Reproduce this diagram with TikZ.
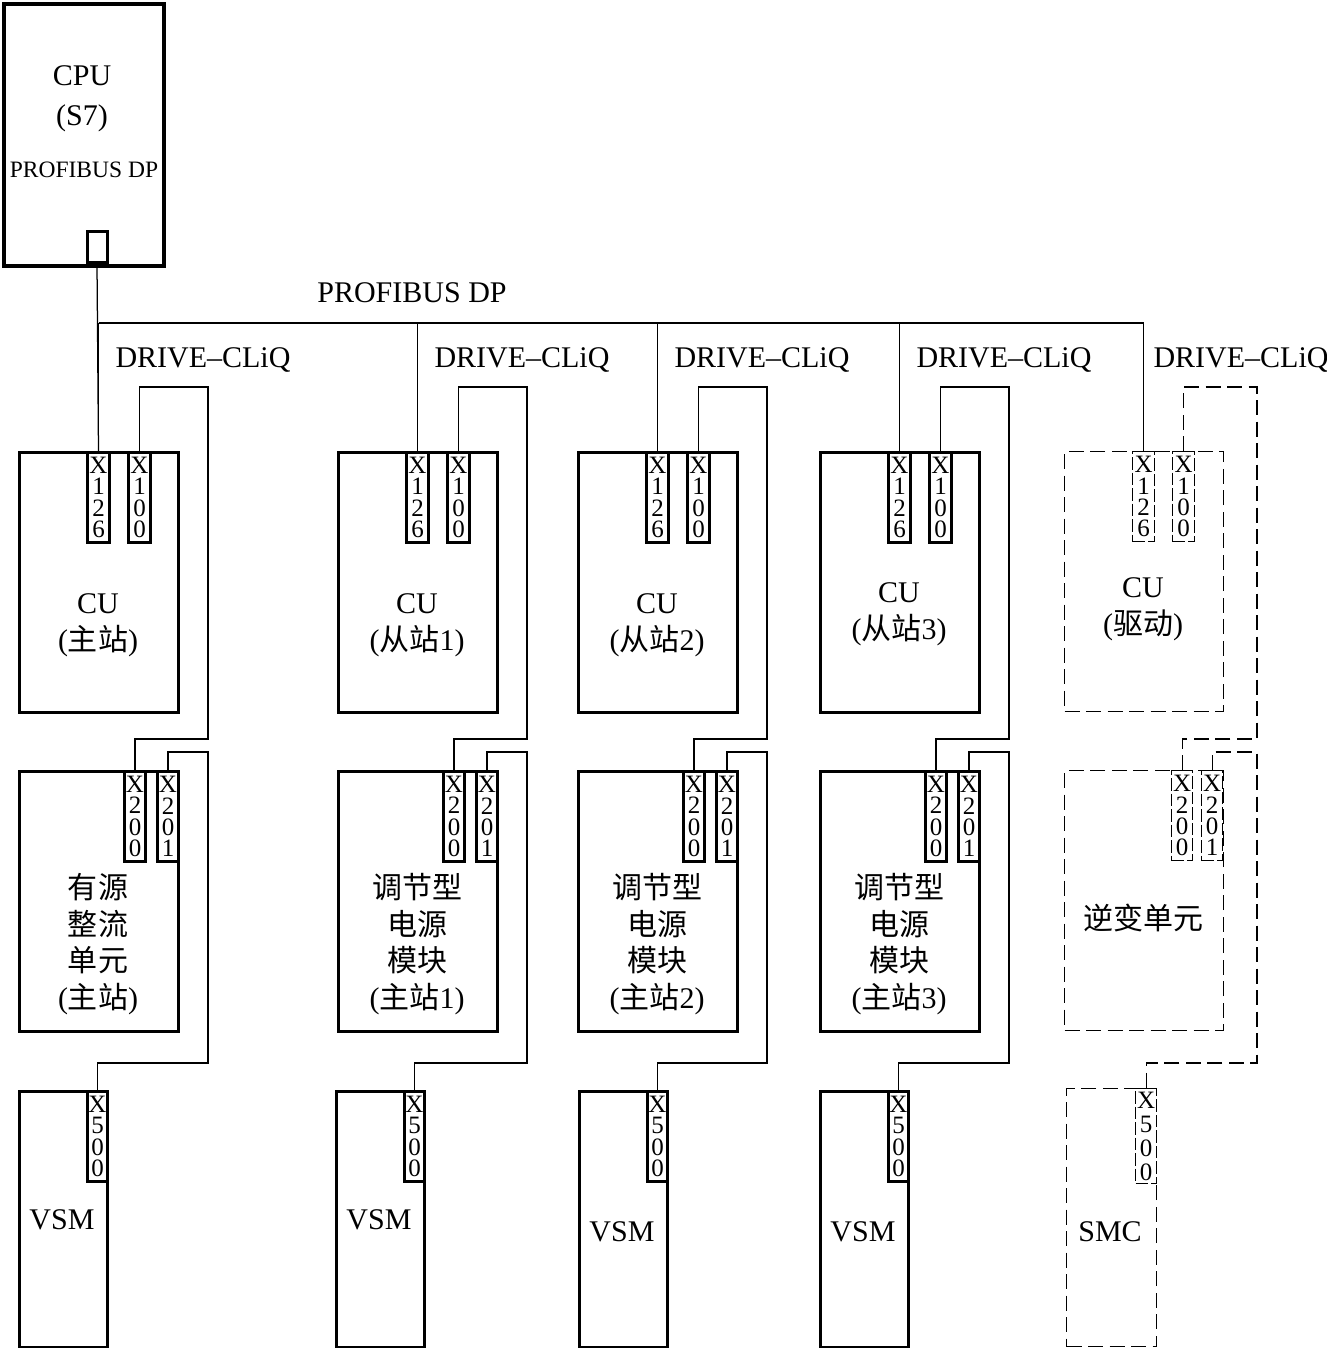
\documentclass[tikz,border=0pt]{standalone}
\usepackage{fontspec}
\setmainfont{Liberation Serif}
\newfontfamily\cjkfont{Noto Sans CJK SC}
\newcommand{\hz}[1]{{\cjkfont #1}}

\tikzset{
    unit/.style={draw, line width=1.2pt, anchor=north west, inner sep=0pt,
        minimum width=63.6pt, minimum height=104pt},
    vsmunit/.style={unit, minimum width=35.2pt, minimum height=102.4pt},
    port/.style={draw, line width=1.2pt, fill=white, anchor=north west, inner sep=0pt,
        minimum width=8.8pt, minimum height=36pt, align=center,
        font=\fontsize{10}{8.5}\selectfont},
    txt/.style={align=center, inner sep=0pt, font=\fontsize{12}{14.6}\selectfont},
    link/.style={line width=0.5pt},
    spare/.style={line width=0.5pt, dash pattern=on 6pt off 2.6pt},
    spareport/.style={line width=0.5pt, dash pattern=on 5pt off 1.2pt}
}

\begin{document}
\begin{tikzpicture}[x=0.4pt, y=-0.4pt]

\useasboundingbox (0,0) rectangle (1327,1348);

% CPU
\node[unit, line width=1.4pt, minimum width=64pt, minimum height=104.8pt] (cpu) at (2,2) {};
\node[port, minimum width=8pt, minimum height=12.4pt, anchor=south] (cpup) at (97,264) {};
\node[txt] (cpuname) at (82,76) {CPU};
\node[txt] (cpus7) at (82,118) {(S7)};
\node[txt, font=\fontsize{9.4}{11}\selectfont] (cpudp) at (84,170) {PROFIBUS DP};

% Bus label
\node[txt] (dp) at (412,293) {PROFIBUS DP};

% Drive groups
\foreach \i/\l/\vl/\cy/\vy/\cutxt/\pmtxt in {
    1/18/18/625/1220/{CU\\(\hz{主站})}/{\hz{有源}\\\hz{整流}\\\hz{单元}\\(\hz{主站})},
    2/337/335/625/1220/{CU\\(\hz{从站}1)}/{\hz{调节型}\\\hz{电源}\\\hz{模块}\\(\hz{主站}1)},
    3/577/578/625/1232/{CU\\(\hz{从站}2)}/{\hz{调节型}\\\hz{电源}\\\hz{模块}\\(\hz{主站}2)},
    4/819/819/614/1232/{CU\\(\hz{从站}3)}/{\hz{调节型}\\\hz{电源}\\\hz{模块}\\(\hz{主站}3)}}
{
    % control unit
    \node[unit] (cu\i) at (\l,451) {};
    \node[port] (cu\i-x126) at (\l+68,451) {X\\1\\2\\6};
    \node[port] (cu\i-x100) at (\l+109,451) {X\\1\\0\\0};
    \node[txt] (cu\i-txt) at (\l+80,\cy) {\cutxt};

    % power module
    \node[unit] (pm\i) at (\l,770) {};
    \node[port, minimum width=8.4pt] (pm\i-x200) at (\l+105,770) {X\\2\\0\\0};
    \node[port, minimum width=8.4pt] (pm\i-x201) at (\l+138,770) {X\\2\\0\\1};
    \node[txt] (pm\i-txt) at (\l+80,944) {\pmtxt};

    % voltage sensing module
    \node[vsmunit] (vsm\i) at (\vl,1090) {};
    \node[port, minimum width=8pt] (vsm\i-x500) at (\vl+68,1090) {X\\5\\0\\0};
    \node[txt] (vsm\i-txt) at (\vl+44,\vy) {VSM};

    % DRIVE-CLiQ
    \node[txt, anchor=west] (dc\i) at (\l+97,360) {DRIVE--CLiQ};
    \draw[link] (cu\i-x100.north) |- (\l+190,387) -- (\l+190,739) -| (pm\i-x200.north);
    \draw[link] (pm\i-x201.north) |- (\l+190,752) -- (\l+190,1063) -| (vsm\i-x500.north);

    % bus drop
    \draw[link] (cu\i-x126.north) -- (cu\i-x126.north |- 0,323);
}

% Optional drive
\node[unit, spare] (cu5) at (1064,451) {};
\node[port, spareport] (cu5-x126) at (1132,451) {X\\1\\2\\6};
\node[port, spareport] (cu5-x100) at (1172,451) {X\\1\\0\\0};
\node[txt] (cu5-txt) at (1143,609) {CU\\(\hz{驱动})};

\node[unit, spare] (pm5) at (1064,770) {};
\node[port, spareport, minimum width=8.4pt] (pm5-x200) at (1171,770) {X\\2\\0\\0};
\node[port, spareport, minimum width=8.4pt] (pm5-x201) at (1201,770) {X\\2\\0\\1};
\node[txt] (pm5-txt) at (1143,918) {\hz{逆变单元}};

\node[vsmunit, spare, minimum width=36pt, minimum height=103.2pt] (smc) at (1066,1088) {};
\node[port, spareport, minimum width=8.4pt, minimum height=38pt,
    font=\fontsize{10}{9.6}\selectfont] (smc-x500) at (1135,1088) {X\\5\\0\\0};
\node[txt] (smc-txt) at (1110,1232) {SMC};

\node[txt, anchor=west] (dc5) at (1153,360) {DRIVE--CLiQ};
\draw[spare] (cu5-x100.north) |- (1257,387) -- (1257,739) -| (pm5-x200.north);
\draw[spare] (pm5-x201.north) |- (1257,752) -- (1257,1063) -| (smc-x500.north);
\draw[link] (cu5-x126.north) -- (cu5-x126.north |- 0,323);

% PROFIBUS DP
\draw[link] (cpup.south) -- (cu1-x126.north);
\draw[link] (cu1-x126.north |- 0,323) -- (cu5-x126.north |- 0,323);

\end{tikzpicture}
\end{document}
